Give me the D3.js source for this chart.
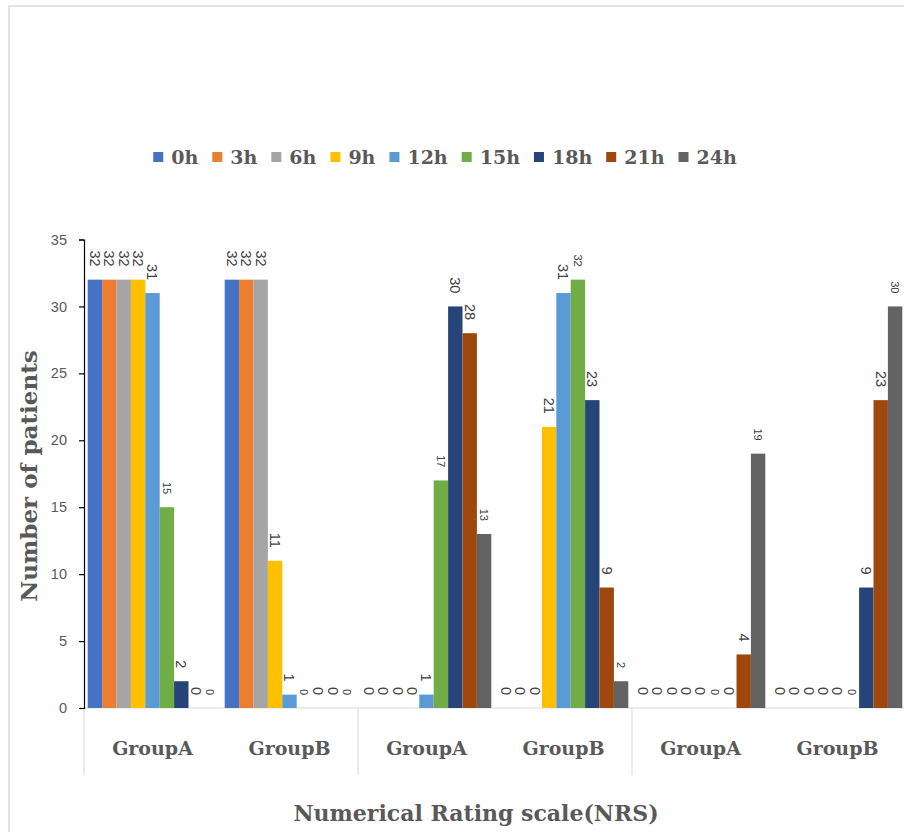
<!DOCTYPE html>
<html>
<head>
<meta charset="utf-8">
<script src="https://cdn.jsdelivr.net/npm/d3@7"></script>
<style>
  html, body { margin: 0; padding: 0; background: #fff; }
  svg { display: block; }
</style>
</head>
<body>
<svg id="chart" width="904" height="832"></svg>
<script>
// Patients per pain-score class, measured every 3 hours for two groups.
const categories = ["GroupA", "GroupB", "GroupA", "GroupB", "GroupA", "GroupB"];
const seriesNames = ["0h", "3h", "6h", "9h", "12h", "15h", "18h", "21h", "24h"];

const v0h  = [32, 32, 0, 0, 0, 0];
const v3h  = [32, 32, 0, 0, 0, 0];
const v6h  = [32, 32, 0, 0, 0, 0];
const v9h  = [32, 11, 0, 21, 0, 0];
const v12h = [31, 1, 1, 31, 0, 0];
const v15h = [15, 0, 17, 32, 0, 0];
const v18h = [2, 0, 30, 23, 0, 9];
const v21h = [0, 0, 28, 9, 4, 23];
const v24h = [0, 0, 13, 2, 19, 30];

const yTicks = [0, 5, 10, 15, 20, 25, 30, 35];

const seriesValues = [v0h, v3h, v6h, v9h, v12h, v15h, v18h, v21h, v24h];
const colors = ["#4472C4", "#ED7D31", "#A5A5A5", "#FFC000", "#5B9BD5",
                "#70AD47", "#264478", "#9E480E", "#636363"];
// series whose value labels are set in the smaller size
const smallLabels = new Set(["15h", "24h"]);

const svg = d3.select("#chart");
const serif = "'DejaVu Serif', serif";
const sans = "'Liberation Sans', Arial, sans-serif";
const textGray = "#595959";

// outer chart frame
svg.append("rect")
  .attr("x", 9).attr("y", 6).attr("width", 1000).attr("height", 1000)
  .attr("fill", "none").attr("stroke", "#d9d9d9").attr("stroke-width", 1.5);

const plot = { left: 84, right: 906, top: 239.5, bottom: 708 };

const x0 = d3.scaleBand()
  .domain(d3.range(categories.length))
  .range([plot.left, plot.right])
  .padding(0);

const x1 = d3.scaleBand()
  .domain(seriesNames)
  .range([0, x0.bandwidth()])
  .paddingInner(0)
  .paddingOuter(0.257);

const y = d3.scaleLinear().domain([0, 35]).range([plot.bottom, plot.top]);

// category axis baseline
svg.append("line")
  .attr("x1", plot.left).attr("x2", plot.right)
  .attr("y1", plot.bottom).attr("y2", plot.bottom)
  .attr("stroke", "#d9d9d9").attr("stroke-width", 1);

// separators between the outer (pair) categories
const pairs = d3.range(0, categories.length + 1, 2);
svg.selectAll("line.sep").data(pairs).join("line")
  .attr("class", "sep")
  .attr("x1", d => plot.left + d * x0.step())
  .attr("x2", d => plot.left + d * x0.step())
  .attr("y1", plot.bottom).attr("y2", 775)
  .attr("stroke", "#d9d9d9").attr("stroke-width", 1);

// bars
const groups = svg.append("g").selectAll("g").data(categories).join("g")
  .attr("transform", (d, i) => `translate(${x0(i)},0)`);

const cells = (gi) => seriesNames.map((s, si) => ({ s, si, v: seriesValues[si][gi] }));

groups.selectAll("rect").data((d, gi) => cells(gi)).join("rect")
  .attr("x", d => x1(d.s))
  .attr("y", d => y(d.v))
  .attr("width", x1.bandwidth())
  .attr("height", d => y(0) - y(d.v))
  .attr("fill", d => colors[d.si]);

// value labels, rotated to read top-to-bottom
groups.selectAll("text").data((d, gi) => cells(gi)).join("text")
  .attr("transform", d => `translate(${x1(d.s) + x1.bandwidth() / 2},${y(d.v) - 13}) rotate(90)`)
  .attr("text-anchor", "end")
  .attr("dy", "0.35em")
  .attr("font-family", sans)
  .attr("font-size", d => smallLabels.has(d.s) ? 11 : 14.5)
  .attr("fill", "#404040")
  .text(d => d.v);

// y axis
const yAxis = svg.append("g")
  .attr("transform", `translate(${plot.left},0)`)
  .call(d3.axisLeft(y).tickValues(yTicks).tickSize(5).tickPadding(12));
yAxis.select(".domain").attr("stroke", "#000").attr("stroke-width", 1.2);
yAxis.selectAll(".tick line").attr("stroke", "#000").attr("stroke-width", 1.2);
yAxis.selectAll(".tick text")
  .attr("font-family", sans).attr("font-size", 14.5).attr("fill", textGray);

// category labels
svg.selectAll("text.cat").data(categories).join("text")
  .attr("class", "cat")
  .attr("x", (d, i) => x0(i) + x0.bandwidth() / 2)
  .attr("y", 755)
  .attr("text-anchor", "middle")
  .attr("font-family", serif).attr("font-weight", "bold").attr("font-size", 19)
  .attr("fill", textGray)
  .text(d => d);

// axis titles
svg.append("text")
  .attr("transform", "translate(37,476) rotate(-90)")
  .attr("text-anchor", "middle")
  .attr("font-family", serif).attr("font-weight", "bold").attr("font-size", 23)
  .attr("fill", textGray)
  .text("Number of patients");

svg.append("text")
  .attr("x", 476).attr("y", 821)
  .attr("text-anchor", "middle")
  .attr("font-family", serif).attr("font-weight", "bold").attr("font-size", 22)
  .attr("fill", textGray)
  .text("Numerical Rating scale(NRS)");

// legend, laid out from the measured label widths and centred
const legend = svg.append("g");
const items = legend.selectAll("g").data(seriesNames).join("g");
items.append("rect")
  .attr("width", 10).attr("height", 10).attr("y", 152)
  .attr("fill", (d, i) => colors[i]);
items.append("text")
  .attr("x", 18).attr("y", 164)
  .attr("font-family", serif).attr("font-weight", "bold").attr("font-size", 19)
  .attr("fill", textGray)
  .text(d => d);
let cursor = 0;
items.each(function () {
  const w = d3.select(this).select("text").node().getComputedTextLength();
  d3.select(this).attr("transform", `translate(${cursor},0)`);
  cursor += 18 + w + 14;
});
const legendWidth = cursor - 14;
legend.attr("transform", `translate(${445 - legendWidth / 2},0)`);
</script>
</body>
</html>
